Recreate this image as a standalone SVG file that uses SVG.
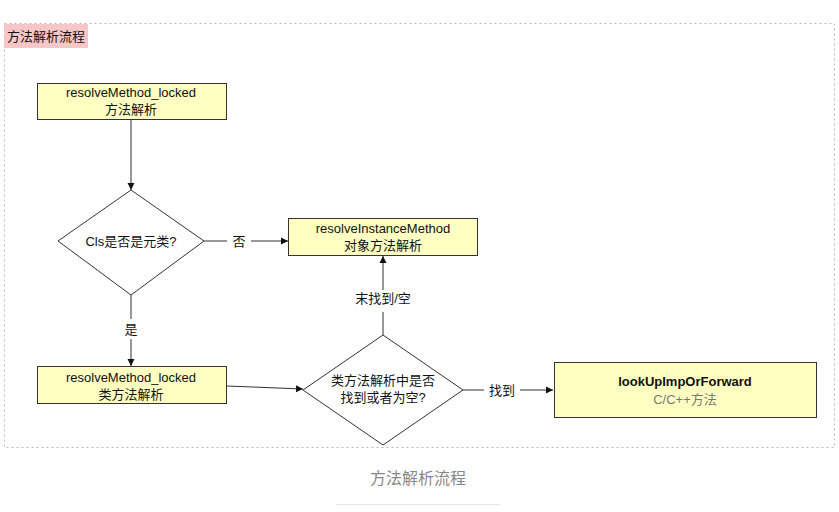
<svg xmlns="http://www.w3.org/2000/svg" width="839" height="512" viewBox="0 0 839 512">
<defs>
<style>
.box{fill:#FFFFC2;stroke:#333;stroke-width:1}
.dia{fill:#fff;stroke:#333;stroke-width:1}
.t{font-family:"Liberation Sans","Noto Sans CJK SC",sans-serif;font-size:13px;fill:#111;text-anchor:middle}
.lbl{font-family:"Liberation Sans","Noto Sans CJK SC",sans-serif;font-size:13px;fill:#111;text-anchor:middle}
.edge{stroke:#333;stroke-width:1;fill:none;marker-end:url(#ah)}
</style>
<marker id="ah" markerWidth="8" markerHeight="8" refX="7" refY="4" orient="auto" markerUnits="userSpaceOnUse">
<path d="M0,0.5 L7,4 L0,7.5 Z" fill="#111"/>
</marker>
</defs>
<rect width="839" height="512" fill="#fff"/>
<rect x="4.5" y="23.5" width="830" height="424" fill="none" stroke="#bbb" stroke-dasharray="2,3"/>
<g id="title">
<rect x="4" y="24" width="84" height="24" fill="#F7C6C7"/>
<text x="46" y="41" class="t">方法解析流程</text>
</g>
<g id="connectors">
<line class="edge" x1="131" y1="119" x2="131" y2="190"/>
<path class="edge" d="M204,241 L227,241 M251,241 L288,241"/>
<text class="lbl" x="239" y="246">否</text>
<path class="edge" d="M131,295 L131,319 M131,339 L131,366"/>
<text class="lbl" x="131" y="334">是</text>
<line class="edge" x1="227" y1="386" x2="303" y2="389"/>
<path class="edge" d="M383,335 L383,312 M383,290 L383,256"/>
<text class="lbl" x="383" y="303">末找到/空</text>
<path class="edge" d="M463,390 L484,390 M520,390 L553,390"/>
<text class="lbl" x="502" y="395">找到</text>
</g>
<g id="n1">
<rect class="box" x="37.5" y="83.5" width="189" height="36"/>
<text class="t" x="131" y="97">resolveMethod_locked</text>
<text class="t" x="131" y="114">方法解析</text>
</g>
<g id="d1">
<polygon class="dia" points="131,190 204,241 131,295 58,241"/>
<text class="t" x="131" y="246">Cls是否是元类?</text>
</g>
<g id="n2">
<rect class="box" x="288.5" y="218.5" width="189" height="37"/>
<text class="t" x="383" y="233">resolveInstanceMethod</text>
<text class="t" x="383" y="250">对象方法解析</text>
</g>
<g id="n3">
<rect class="box" x="37.5" y="366.5" width="189" height="37"/>
<text class="t" x="131" y="382">resolveMethod_locked</text>
<text class="t" x="131" y="399">类方法解析</text>
</g>
<g id="d2">
<polygon class="dia" points="383,335 463,390 383,445 303,390"/>
<text class="t" x="383" y="385">类方法解析中是否</text>
<text class="t" x="383" y="402">找到或者为空?</text>
</g>
<g id="n4">
<rect class="box" x="554.5" y="362.5" width="262" height="55"/>
<text class="t" x="685" y="386" font-weight="bold">lookUpImpOrForward</text>
<text class="t" x="685" y="404" style="fill:#777">C/C++方法</text>
</g>
<g id="caption">
<text x="418" y="484" font-family="Liberation Sans,Noto Sans CJK SC,sans-serif" font-size="16" fill="#888" text-anchor="middle">方法解析流程</text>
<line x1="336" y1="504.5" x2="500" y2="504.5" stroke="#e4e4e4"/>
</g>
</svg>
